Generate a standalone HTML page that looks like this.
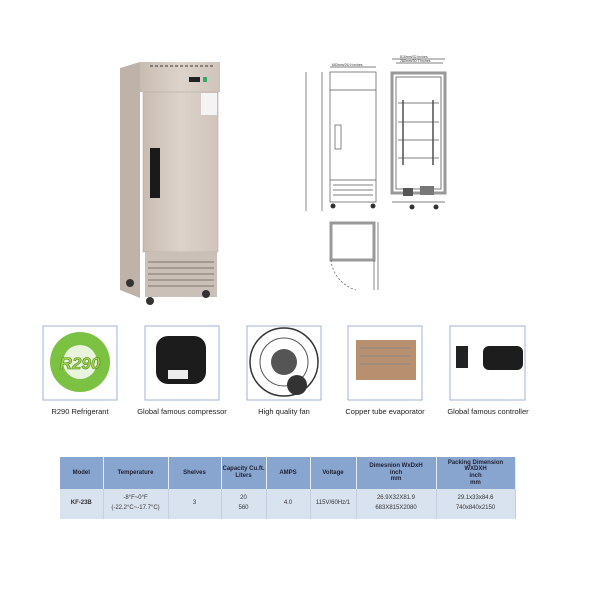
<!DOCTYPE html>
<html><head><style>
body{margin:0;width:600px;height:600px;background:#fff;overflow:hidden;font-family:"Liberation Sans",sans-serif}
.lbl{position:absolute;font-size:7.5px;color:#222;text-align:center;width:110px}
table{position:absolute;left:60px;top:457px;width:455px;border-collapse:collapse;table-layout:fixed;font-size:6px;text-align:center}
th{background:#87a5cf;font-weight:bold;color:#223;height:32px;padding:0;border-right:1px solid #e6ecf5;line-height:1.1}
td{background:#d9e2ef;color:#333;height:30px;padding:0;border-right:1px solid #c4cfe0;line-height:1.6}
</style></head><body>
<svg width="600" height="600" style="position:absolute;left:0;top:0">
<defs><linearGradient id="st" x1="0" x2="1"><stop offset="0" stop-color="#c8bcb2"/><stop offset="0.5" stop-color="#ddd3cb"/><stop offset="1" stop-color="#cfc4bb"/></linearGradient></defs>
<polygon points="120,68 140,62 140,298 120,290" fill="#bfb3a9"/>
<rect x="140" y="62" width="80" height="30" fill="url(#st)"/>
<rect x="143" y="92" width="75" height="160" fill="url(#st)" stroke="#b8aca2" stroke-width="0.6"/>
<rect x="145" y="252" width="72" height="45" fill="#cbc0b7"/>
<g stroke="#8c827a" stroke-width="1.3"><line x1="148" y1="262" x2="214" y2="262"/><line x1="148" y1="268" x2="214" y2="268"/><line x1="148" y1="274" x2="214" y2="274"/><line x1="148" y1="280" x2="214" y2="280"/><line x1="148" y1="286" x2="214" y2="286"/></g>
<line x1="150" y1="66" x2="215" y2="66" stroke="#555" stroke-width="1.2" stroke-dasharray="3,2"/>
<rect x="189" y="77" width="11" height="5" fill="#222"/><rect x="203" y="77" width="4" height="5" fill="#3a6"/>
<rect x="201" y="93" width="16" height="22" fill="#f4f4f4"/>
<rect x="150" y="148" width="10" height="50" fill="#1a1a1a"/>
<circle cx="130" cy="283" r="4" fill="#333"/><circle cx="150" cy="301" r="4" fill="#333"/><circle cx="206" cy="294" r="4" fill="#333"/>
<g fill="none" stroke="#555" stroke-width="0.7">
<rect x="330" y="72" width="46" height="130"/><line x1="330" y1="90" x2="376" y2="90"/><line x1="330" y1="180" x2="376" y2="180"/>
<rect x="335" y="125" width="6" height="24"/>
<line x1="333" y1="185" x2="373" y2="185"/><line x1="333" y1="190" x2="373" y2="190"/><line x1="333" y1="195" x2="373" y2="195"/>
<line x1="322" y1="72" x2="322" y2="211"/><line x1="306" y1="72" x2="306" y2="211"/>
<line x1="330" y1="67" x2="376" y2="67"/>
<rect x="392" y="73" width="53" height="120" stroke-width="3" stroke="#999"/>
<rect x="396" y="77" width="45" height="112" stroke="#444"/>
<line x1="403" y1="100" x2="403" y2="165" stroke="#222" stroke-width="1.2"/><line x1="433" y1="100" x2="433" y2="165" stroke="#222" stroke-width="1.2"/>
<line x1="398" y1="103" x2="439" y2="103"/><line x1="398" y1="122" x2="439" y2="122"/><line x1="398" y1="140" x2="439" y2="140"/><line x1="398" y1="158" x2="439" y2="158"/>
<line x1="392" y1="59" x2="445" y2="59"/><line x1="396" y1="63" x2="443" y2="63"/>
<line x1="392" y1="202" x2="445" y2="202"/>
<rect x="331" y="223" width="43" height="37" stroke-width="3" stroke="#999"/>
<path d="M331 260 A35 35 0 0 0 356 290" stroke-dasharray="2,2"/>
<line x1="374" y1="260" x2="374" y2="290"/><line x1="378" y1="222" x2="378" y2="290"/>
</g>
<circle cx="333" cy="206" r="2.5" fill="#333"/><circle cx="373" cy="206" r="2.5" fill="#333"/>
<circle cx="412" cy="207" r="2.5" fill="#333"/><circle cx="436" cy="207" r="2.5" fill="#333"/>
<rect x="403" y="188" width="10" height="8" fill="#555"/><rect x="420" y="186" width="14" height="9" fill="#777"/>
<g font-size="3.5" fill="#333" font-family="Liberation Sans"><text x="332" y="66">683mm/26.9 inches</text><text x="400" y="58">815mm/32 inches</text><text x="400" y="62">780mm/30.7 inches</text></g>
<g fill="#fff" stroke="#9fb3d6" stroke-width="1">
<rect x="43" y="326" width="74" height="74"/><rect x="145" y="326" width="74" height="74"/><rect x="247" y="326" width="74" height="74"/><rect x="348" y="326" width="74" height="74"/><rect x="450" y="326" width="75" height="74"/></g>
<circle cx="80" cy="362" r="30" fill="#7cc242"/><circle cx="80" cy="362" r="17" fill="#e9f4dc"/>
<text x="80" y="369" font-size="17" font-weight="bold" font-style="italic" fill="#a8d24a" stroke="#4a8a20" stroke-width="0.6" text-anchor="middle" font-family="Liberation Sans">R290</text>
<rect x="156" y="336" width="50" height="48" rx="12" fill="#1c1c1c"/><rect x="168" y="370" width="20" height="9" fill="#eee"/>
<circle cx="284" cy="362" r="34" fill="none" stroke="#333" stroke-width="1.5"/><circle cx="284" cy="362" r="24" fill="none" stroke="#555"/><circle cx="284" cy="362" r="13" fill="#555"/><circle cx="297" cy="385" r="10" fill="#333"/>
<rect x="356" y="340" width="60" height="40" fill="#b89070"/><g stroke="#888"><line x1="360" y1="348" x2="410" y2="348"/><line x1="360" y1="356" x2="410" y2="356"/><line x1="360" y1="364" x2="410" y2="364"/></g>
<rect x="456" y="346" width="12" height="22" fill="#222"/><rect x="483" y="346" width="40" height="24" rx="6" fill="#1d1d1d"/>
</svg>
<div class="lbl" style="left:25px;top:407px">R290 Refrigerant</div>
<div class="lbl" style="left:127px;top:407px">Global famous compressor</div>
<div class="lbl" style="left:229px;top:407px">High quality fan</div>
<div class="lbl" style="left:330px;top:407px">Copper tube evaporator</div>
<div class="lbl" style="left:433px;top:407px">Global famous controller</div>
<table>
<colgroup><col style="width:43px"><col style="width:65px"><col style="width:53px"><col style="width:45px"><col style="width:44px"><col style="width:46px"><col style="width:80px"><col style="width:79px"></colgroup>
<tr><th>Model</th><th>Temperature</th><th>Shelves</th><th>Capacity Cu.ft.<br>Liters</th><th>AMPS</th><th>Voltage</th><th>Dimesnion WxDxH<br>inch<br>mm</th><th>Packing Dimension<br>WXDXH<br>inch<br>mm</th></tr>
<tr><td style="font-weight:bold">KF-23B</td><td>-8°F~0°F<br>(-22.2°C~-17.7°C)</td><td>3</td><td>20<br>560</td><td>4.0</td><td>115V/60Hz/1</td><td>26.9X32X81.9<br>683X815X2080</td><td>29.1x33x84.6<br>740x840x2150</td></tr>
</table>
</body></html>
